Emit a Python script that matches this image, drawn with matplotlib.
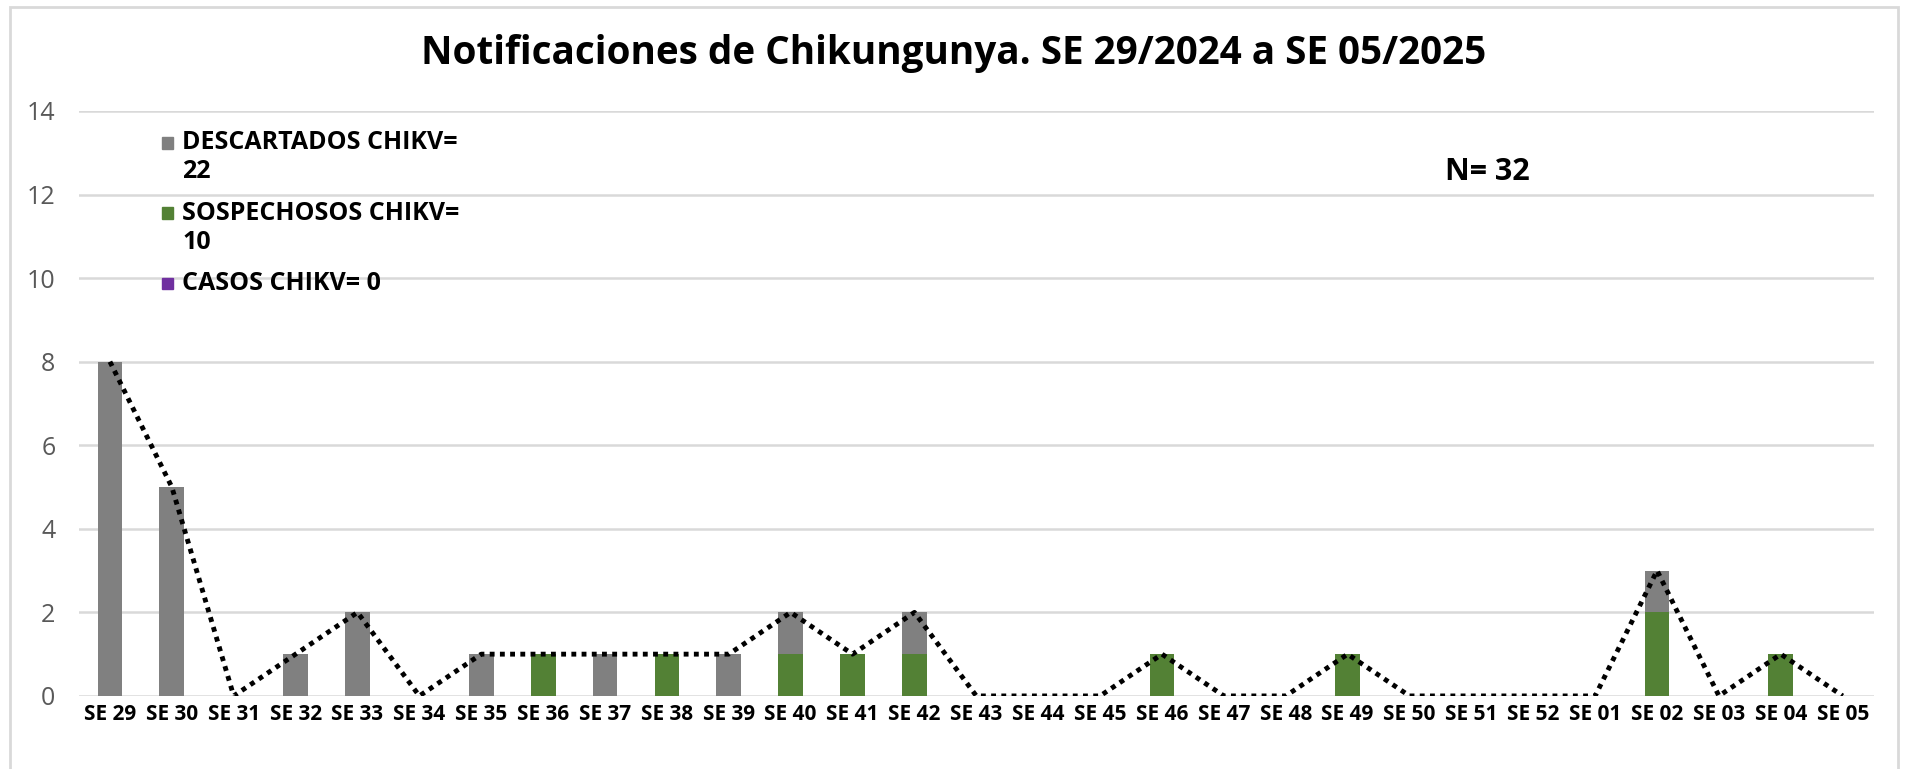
import matplotlib

matplotlib.use("Agg")
import matplotlib.pyplot as plt
from matplotlib.patches import Rectangle
import numpy as np

plt.rcParams["font.family"] = ["Open Sans", "DejaVu Sans"]

# ---------------------------------------------------------------------------
# Data
# ---------------------------------------------------------------------------
weeks = [f"SE {w}" for w in range(29, 53)] + [f"SE {w:02d}" for w in range(1, 6)]

sospechosos = [0, 0, 0, 0, 0, 0, 0, 1, 0, 1, 0, 1, 1, 1, 0, 0, 0, 1, 0, 0,
               1, 0, 0, 0, 0, 2, 0, 1, 0]
descartados = [8, 5, 0, 1, 2, 0, 1, 0, 1, 0, 1, 1, 0, 1, 0, 0, 0, 0, 0, 0,
               0, 0, 0, 0, 0, 1, 0, 0, 0]
casos = [0] * len(weeks)

legend_labels = ["DESCARTADOS CHIKV=\n22", "SOSPECHOSOS CHIKV=\n10", "CASOS CHIKV= 0"]
title = "Notificaciones de Chikungunya. SE 29/2024 a SE 05/2025"
n_text = "N= 32"

GRAY = "#808080"
GREEN = "#538135"
PURPLE = "#7030A0"

# ---------------------------------------------------------------------------
# Figure
# ---------------------------------------------------------------------------
fig = plt.figure(figsize=(19.08, 7.69), dpi=100)
ax = fig.add_axes([0.0414, 0.095, 0.9406, 0.7607])

x = np.arange(len(weeks))
sosp = np.array(sospechosos)
desc = np.array(descartados)
total = sosp + desc + np.array(casos)

ax.bar(x, sosp, width=0.4, color=GREEN, zorder=3)
ax.bar(x, desc, width=0.4, bottom=sosp, color=GRAY, zorder=3)
ax.plot(x, total, color="black", linestyle=(0, (1, 1.1)), linewidth=3.5,
        dash_capstyle="butt", zorder=4)

ax.set_xlim(-0.5, len(weeks) - 0.5)
ax.set_ylim(0, 14)
ax.set_yticks(range(0, 15, 2))
ax.set_xticks(x)
ax.set_xticklabels(weeks, fontsize=15, fontweight="bold", color="black")
ax.tick_params(axis="y", labelsize=18, labelcolor="#595959", length=0, pad=17)
ax.tick_params(axis="x", length=0, pad=6)
ax.grid(axis="y", color="#D9D9D9", linewidth=1.8, zorder=0)
ax.set_axisbelow(True)
for s in ax.spines.values():
    s.set_visible(False)

fig.text(0.5, 0.93, title, ha="center", va="center", fontsize=27.8, fontweight="bold")
ax.text(0.785, 0.895, n_text, transform=ax.transAxes, ha="center", va="center",
        fontsize=22, fontweight="bold")

# legend drawn by hand: square lines up with the first text line
leg_colors = [GRAY, GREEN, PURPLE]
leg_y = [13.24, 11.55, 9.87]
line_step = 0.70
trans = ax.get_yaxis_transform()
for label, color, yy in zip(legend_labels, leg_colors, leg_y):
    ax.add_patch(Rectangle((0.046, yy - 0.14), 0.0065, 0.28, color=color,
                           transform=trans, zorder=5))
    for k, line in enumerate(label.split("\n")):
        ax.text(0.0576, yy - k * line_step, line, transform=trans,
                ha="left", va="center", fontsize=18, fontweight="bold", zorder=5)

fig.patches.append(Rectangle((10 / 1908, -0.01), 1888 / 1908, 1 - 7 / 769 + 0.01,
                             transform=fig.transFigure, fill=False,
                             edgecolor="#D9D9D9", linewidth=2))

fig.savefig("out.png", dpi=100)
